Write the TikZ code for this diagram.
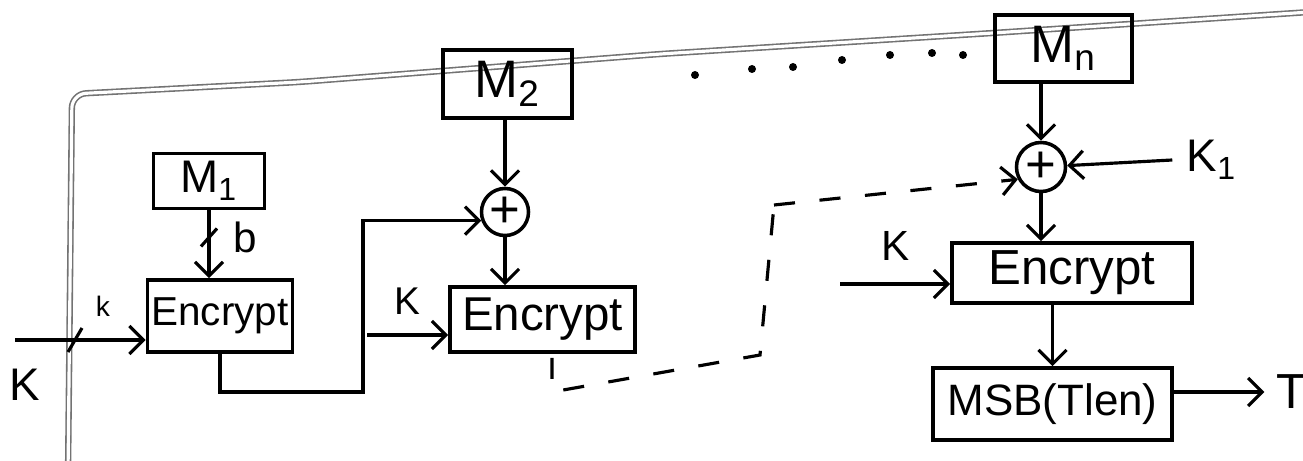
\documentclass[tikz,border=0pt]{standalone}
\usepackage{fontspec}
\setmainfont{Liberation Sans}
\usetikzlibrary{arrows.meta,calc}
\newcommand\setfs[1]{\fontsize{#1}{#1}\selectfont}
\begin{document}
\begin{tikzpicture}[x=0.01cm,y=-0.01cm,
  box/.style={draw, line width=1pt, inner sep=0pt},
  arr/.style={-{Straight Barb[length=1.4mm,width=2.8mm]}, line width=0.9pt},
  wire/.style={line width=0.9pt},
  dashline/.style={line width=0.9pt, dash pattern=on 6pt off 7pt},
  xor/.style={circle, draw, line width=1pt, minimum size=0.47cm, inner sep=0pt, font=\setfs{15}},
  margin/.style={draw=black!55, line width=0.45pt, double=white, double distance=0.9pt},
  lbl/.style={inner sep=0pt}]
\useasboundingbox (0,0) rectangle (1303,461);

% notebook page margin
\draw[margin, rounded corners=4pt] (68,475) -- (72,94) -- (300,82) -- (660,54) -- (993,33) -- (1310,12);

% first block
\node[box, minimum width=1.11cm, minimum height=0.55cm, font=\setfs{13}] (m1) at (209,181) {M\textsubscript{1}};
\node[box, minimum width=1.45cm, minimum height=0.72cm, font=\setfs{11.5}] (enc1) at (220,316) {Encrypt};
\draw[arr] (m1.south) -- coordinate[pos=0.4] (bmark) (m1.south |- enc1.north);
\draw[wire] ($(bmark)+(-8,9)$) -- ($(bmark)+(8,-9)$);
\node[lbl, font=\setfs{12}] (blab) at (245,237) {b};

\coordinate (kin) at (15,340);
\draw[arr] (kin) -- (kin -| enc1.west);
\coordinate (kslash) at (75,340);
\draw[wire] ($(kslash)+(-7,12)$) -- ($(kslash)+(7,-12)$);
\node[lbl, font=\setfs{8}] (ksmall) at (103,306) {k};
\node[lbl, font=\setfs{13}] (kbig) at (25,385) {K};

% second block
\node[box, minimum width=1.29cm, minimum height=0.68cm, font=\setfs{15}] (m2) at (507.5,84) {M\textsubscript{2}};
\node[xor] (x1) at (505,212) {+};
\node[box, minimum width=1.85cm, minimum height=0.65cm, font=\setfs{13.5}] (enc2) at (542.5,319.5) {Encrypt};
\draw[arr] (m2.south -| x1.north) -- (x1.north);
\draw[arr] (x1.south) -- (x1.south |- enc2.north);
\coordinate (loop) at (363,392);
\draw[arr] (enc1.south) |- (loop) |- (x1.200);
\coordinate (k2) at (367,335);
\draw[arr] (k2) -- node[above=2pt, font=\setfs{11}] (k2lab) {K} (k2 -| enc2.west);

% chaining continues through the intermediate blocks
\coordinate (d1) at (552,392);
\coordinate (d2) at (760,355);
\coordinate (d3) at (774,205);
\draw[dashline] ($(enc2.south -| d1)+(0,4)$) -- (d1) -- (d2) -- (d3);

% ellipsis between the message blocks
\foreach \px/\py in {695/75, 752/69, 793/67, 842/60, 890/55, 932/53, 963/55}
  \fill (\px,\py) circle (4);

% last block
\node[box, minimum width=1.37cm, minimum height=0.67cm, font=\setfs{15}] (mn) at (1063.5,48.5) {M\textsubscript{n}};
\node[xor, minimum size=0.49cm] (xn) at (1041,167) {+};
\node[box, minimum width=2.40cm, minimum height=0.60cm, font=\setfs{14}] (enc3) at (1072,273) {Encrypt};
\node[box, minimum width=2.39cm, minimum height=0.72cm, font=\setfs{12.5}] (msb) at (1052.5,404) {MSB(Tlen)};
\draw[arr] (mn.south -| xn.north) -- (xn.north);
\draw[arr, dash pattern=on 6pt off 7pt] (d3) -- (xn.208);
\node[lbl, font=\setfs{13}] (k1lab) at (1212,160) {K\textsubscript{1}};
\draw[arr] (k1lab.west) ++(-14,0) coordinate (k1) (k1) -- (xn);
\draw[arr] (xn.south) -- (xn.south |- enc3.north);
\coordinate (k3) at (840,284);
\draw[arr] (k3) -- node[above=3pt, font=\setfs{12}] (k3lab) {K} (k3 -| enc3.west);
\draw[arr] (enc3.south -| msb.north) -- (msb.north);
\node[lbl, font=\setfs{14}] (tlab) at (1292,392) {T};
\draw[arr] (tlab.west -| msb.east) -- ($(tlab.west)+(-12,0)$);
\end{tikzpicture}
\end{document}
